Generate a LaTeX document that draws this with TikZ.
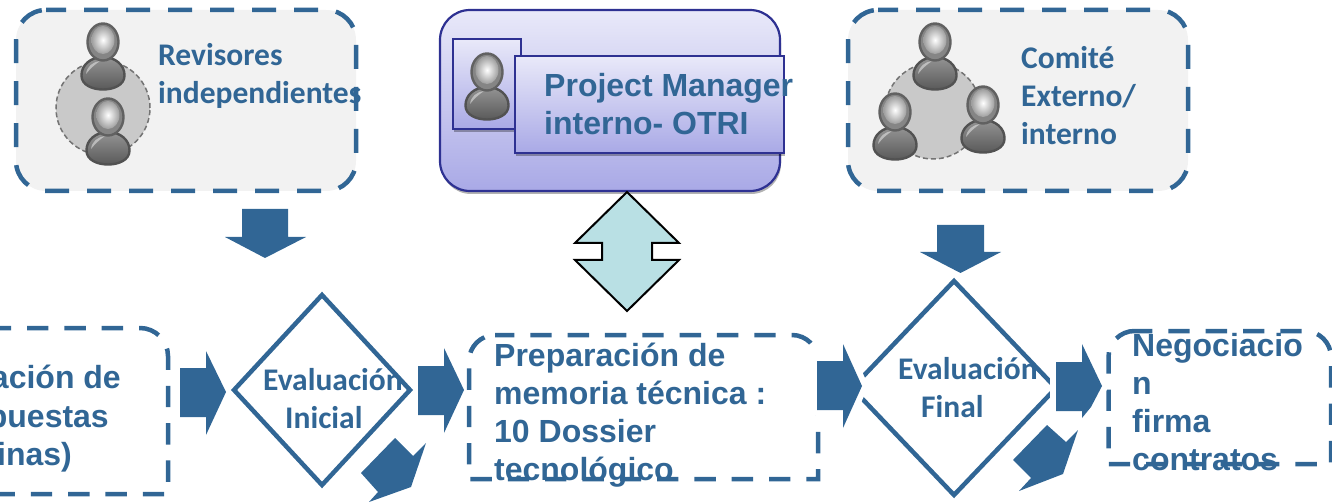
\documentclass[tikz,border=0pt]{standalone}
\usepackage{fontspec}
\setmainfont{Carlito}
\newfontfamily\arialf{Liberation Sans}
\usetikzlibrary{shapes.geometric,shadows,calc}
\definecolor{bluem}{HTML}{316695}
\definecolor{boxgray}{HTML}{F2F2F2}
\definecolor{navy}{HTML}{2E3192}
\definecolor{lav}{HTML}{E9E9F9}
\definecolor{lavd}{HTML}{A9A9E6}
\definecolor{teal}{HTML}{B9E0E4}
\tikzset{
  x=1pt,y=-1pt,
  graybox/.style={fill=boxgray,draw=none,rounded corners=30pt,inner sep=0pt,outer sep=0pt},
  bigdash/.style={draw=bluem,line width=4.5pt,dash pattern=on 24pt off 18pt},
  smalldash/.style={draw=bluem,line width=4.5pt,dash pattern=on 21.4pt off 15.93pt},
  lavbox/.style={draw=navy,line width=2.2pt,top color=lav,bottom color=lavd,inner sep=0pt,outer sep=0pt,
     drop shadow={shadow xshift=1pt,shadow yshift=-3pt,fill=black,opacity=.3}},
  decis/.style={diamond,draw=bluem,line width=4.5pt,inner sep=0pt,outer sep=0pt},
  blockarrow/.style={fill=bluem,draw=none},
  haloarrow/.style={fill=bluem,preaction={draw=white,line width=12pt,line join=round}},
  calib/.style={text=bluem,font=\fontsize{31.5}{38}\selectfont\bfseries,align=left,inner sep=0pt},
  arial/.style={text=bluem,font=\arialf\fontsize{32}{38}\selectfont\bfseries,align=left,inner sep=0pt},
  ring/.style={draw=black!55,line width=1.5pt,dash pattern=on 5pt off 3pt,fill=black!21},
}
\newcommand{\person}[2]{% x, y of head centre
 \begin{scope}[shift={(#1,#2)}]
  \path[draw=black!68,line width=2.4pt,top color=black!42,bottom color=black!68]
    (-21.5,34) .. controls (-22,23) and (-12,15) .. (0,15) .. controls (12,15) and (22,23) .. (21.5,34)
    .. controls (21,52) and (-21,52) .. (-21.5,34) -- cycle;
  \path[fill=white,opacity=.45] (-17,32) .. controls (-16,24) and (-10,20) .. (-3,19) .. controls (-9,23) and (-13,27) .. (-17,32) -- cycle;
  \path[draw=black!62,line width=2.4pt,fill=black!48] (0,0) ellipse[x radius=15.5,y radius=18.5];
  \path[inner color=white,outer color=black!38] (0,-2) ellipse[x radius=11.5,y radius=14];
 \end{scope}}
% x0,y0,x1,y1,r: closed-looking frame, all corners rounded
\newcommand{\allround}[5]{
 ({#1+#5},#2) -- ({#3-#5},#2) .. controls ({#3-.45*#5},#2) and (#3,{#2+.45*#5}) .. (#3,{#2+#5})
 -- (#3,{#4-#5}) .. controls (#3,{#4-.45*#5}) and ({#3-.45*#5},#4) .. ({#3-#5},#4)
 -- ({#1+#5},#4) .. controls ({#1+.45*#5},#4) and (#1,{#4-.45*#5}) .. (#1,{#4-#5})
 -- (#1,{#2+#5}) .. controls (#1,{#2+.45*#5}) and ({#1+.45*#5},#2) .. ({#1+#5},#2)}
% top corners rounded, bottom corners square
\newcommand{\topround}[5]{
 ({#1+#5},#2) -- ({#3-#5},#2) .. controls ({#3-.45*#5},#2) and (#3,{#2+.45*#5}) .. (#3,{#2+#5})
 -- (#3,#4) -- (#1,#4)
 -- (#1,{#2+#5}) .. controls (#1,{#2+.45*#5}) and ({#1+.45*#5},#2) .. ({#1+#5},#2)}
\begin{document}
\begin{tikzpicture}
\useasboundingbox (0,0) rectangle (1332,502);
\clip (0,0) rectangle (1332,502);

% top left group
\node[graybox,minimum width=340pt,minimum height=181pt] (rev) at (186,100.5) {};
\path[bigdash,dash phase=4pt] \allround{16}{10}{356}{191}{30};
\node[circle,ring,minimum size=94pt,inner sep=0pt] (revring) at (103,108) {};
\person{103}{42}
\person{108}{117}
\node[calib,anchor=base west] (revt) at (158,104) {Revisores\\independientes};

% top middle
\node[lavbox,rounded corners=30pt,minimum width=340pt,minimum height=181pt] (pmo) at (610,100.5) {};
\node[lavbox,minimum width=68pt,minimum height=90pt] (pms) at (487,84) {};
\person{487}{72}
\node[lavbox,minimum width=269pt,minimum height=97pt] (pml) at (649.5,104.5) {};
\node[arial,anchor=base west] (pmt) at (544,135) {Project Manager\\interno- OTRI};

% top right group
\node[graybox,minimum width=340pt,minimum height=181pt] (com) at (1018,100.5) {};
\path[bigdash,dash phase=4pt] \allround{848}{10}{1188}{191}{30};
\node[circle,ring,minimum size=96pt,inner sep=0pt] (comring) at (933,111) {};
\person{935}{42}
\person{895}{112}
\person{983}{105}
\node[calib,anchor=base west] (comt) at (1021,145) {Comité\\Externo/\\interno};

% double arrow
\path[draw=black,line width=2pt,fill=teal,line join=miter]
 (627,192) -- (679,243) -- (652,243) -- (652,260) -- (679,260) -- (627,311) -- (575,260) -- (602,260) -- (602,243) -- (575,243) -- cycle;

% down arrows
\fill[blockarrow] (242,209) -- (288,209) -- (288,237) -- (306,237) -- (265,258) -- (225,237) -- (242,237) -- cycle;
\fill[blockarrow] (937,225) -- (984,225) -- (984,252) -- (1001,252) -- (960.5,273) -- (920,252) -- (937,252) -- cycle;

% process boxes
\path[smalldash] (-10.3,328) -- (140,328) .. controls (155.4,328) and (168,340.6) .. (168,356) -- (168,494) -- (-12,494);
\node[arial,anchor=base east] (prest1) at (121,388) {ación de};
\node[arial,anchor=base east] (prest2) at (109,427) {puestas};
\node[arial,anchor=base east] (prest3) at (72,465) {inas)};

\node[decis,minimum width=176pt,minimum height=190pt] (ev1) at (322,390) {};
\node[calib,anchor=base west] (ev1t) at (263,428) {Evaluación\\\hspace*{22pt}Inicial};

\path[smalldash,dash phase=2pt] \topround{469}{335}{818}{479}{26};
\node[arial,anchor=base west] (memt) at (494,480) {Preparación de\\memoria técnica :\\10 Dossier\\tecnológico};

\node[decis,minimum width=204pt,minimum height=214pt] (ev2) at (954,388) {};
\node[calib,anchor=base west] (ev2t) at (898,417) {Evaluación\\\hspace*{23pt}Final};

\path[smalldash,dash phase=3.5pt] \topround{1108.5}{331}{1331}{464}{26};
\node[arial,anchor=base west] (negt) at (1132,470) {Negociacio\\n\\firma\\contratos};

% right arrows
\fill[blockarrow] (180,368) -- (206,368) -- (206,351) -- (226,392) -- (206,435) -- (206,417) -- (180,417) -- cycle;
\fill[blockarrow] (418,366) -- (444,366) -- (444,348) -- (464,390) -- (444,433) -- (444,415) -- (418,415) -- cycle;
\path[haloarrow] (817,361) -- (843,361) -- (843,344) -- (862,386) -- (843,428) -- (843,410) -- (817,410) -- cycle;
\path[haloarrow] (1056,362) -- (1082,362) -- (1082,344) -- (1102,386) -- (1091,407) -- (1082,418) -- (1082,411) -- (1056,411) -- cycle;

% diagonal arrows
\fill[blockarrow] (395,438) -- (413,456) -- (426,443) -- (411,487) -- (369,502) -- (378,492) -- (361,473) -- cycle;
\fill[blockarrow] (1047,425) -- (1066,442) -- (1078,430) -- (1063,474) -- (1019,491) -- (1031,478) -- (1013,460) -- cycle;
\end{tikzpicture}
\end{document}
